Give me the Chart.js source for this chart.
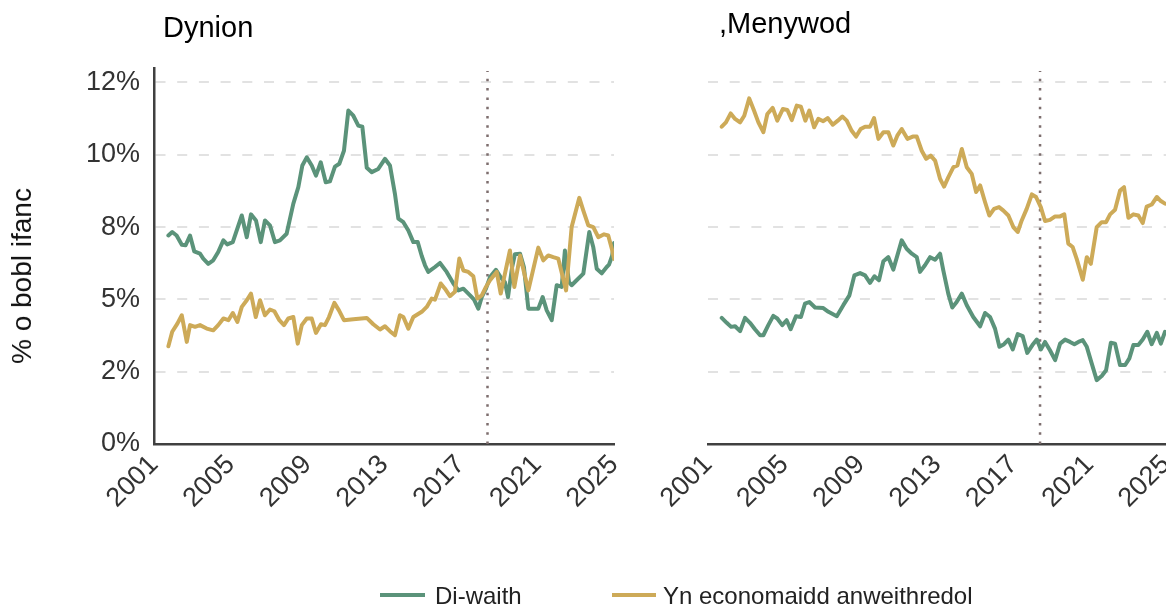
<!DOCTYPE html>
<html><head><meta charset="utf-8">
<script src="https://cdn.jsdelivr.net/npm/chart.js@4.4.1/dist/chart.umd.min.js"></script>
<style>
html,body{margin:0;padding:0;background:#fff;}
#wrap{position:relative;width:1166px;height:606px;overflow:hidden;font-family:"Liberation Sans",Arial,sans-serif;}
canvas{position:absolute;top:0;}
.t{position:absolute;white-space:nowrap;color:#000;line-height:1;}
.lg{position:absolute;white-space:nowrap;color:#222;font-size:24px;line-height:1;}
.sw{position:absolute;height:4px;}
</style></head><body>
<div id="wrap">
<canvas id="c1" width="640" height="606" style="left:0"></canvas>
<canvas id="c2" width="506" height="606" style="left:660px"></canvas>
<div class="t" style="left:163px;top:13px;font-size:29px;">Dynion</div>
<div class="t" style="left:719px;top:9px;font-size:29px;">,Menywod</div>
<div class="t" style="left:22px;top:276px;font-size:28px;color:#111;transform:translate(-50%,-50%) rotate(-90deg);">% o bobl ifanc</div>
<div class="sw" style="left:380px;top:593px;width:45px;background:#5b937a;"></div>
<div class="lg" style="left:435px;top:584px;">Di-waith</div>
<div class="sw" style="left:612px;top:593px;width:44px;background:#cdaa58;"></div>
<div class="lg" style="left:663px;top:584px;">Yn economaidd anweithredol</div>
</div>
<script>
// ---- data ----
const xTickYears = [2001, 2005, 2009, 2013, 2017, 2021, 2025];
const yTickValues = [0, 2.5, 5, 7.5, 10, 12.5];
const yTickLabels = ['0%', '2%', '5%', '8%', '10%', '12%'];
const markerYear = 2018.4;

// Dynion – Di-waith
const menUnempYears = [2001.75,2001.95,2002.18,2002.45,2002.65,2002.88,2003.10,2003.40,2003.57,2003.83,2004.09,2004.35,2004.62,2004.82,2005.11,2005.58,2005.84,2006.06,2006.32,2006.57,2006.79,2007.05,2007.31,2007.57,2007.92,2008.27,2008.53,2008.74,2008.97,2009.23,2009.45,2009.70,2009.96,2010.18,2010.44,2010.67,2010.91,2011.14,2011.40,2011.66,2011.87,2012.10,2012.36,2012.70,2013.05,2013.31,2013.57,2013.75,2014.01,2014.27,2014.53,2014.76,2014.97,2015.14,2015.31,2015.66,2015.92,2016.27,2016.62,2016.88,2017.14,2017.49,2017.70,2017.92,2018.10,2018.32,2018.53,2018.84,2019.10,2019.31,2019.47,2019.68,2019.83,2020.10,2020.30,2020.53,2020.79,2021.05,2021.28,2021.49,2021.75,2022.01,2022.27,2022.44,2022.65,2022.79,2023.05,2023.40,2023.71,2023.92,2024.10,2024.36,2024.62,2024.74,2024.90,2025.00];
const menUnempRate = [7.21,7.33,7.21,6.89,6.87,7.21,6.66,6.58,6.41,6.23,6.35,6.64,7.04,6.9,6.98,7.9,7.15,7.94,7.73,6.98,7.73,7.56,6.98,7.04,7.27,8.31,8.88,9.63,9.91,9.63,9.28,9.74,9.05,9.08,9.59,9.69,10.14,11.53,11.35,11.01,10.97,9.55,9.40,9.51,9.86,9.63,8.65,7.79,7.67,7.38,6.98,6.98,6.5,6.18,5.95,6.12,6.26,5.95,5.55,5.31,5.37,5.14,4.99,4.68,5.08,5.37,5.77,6.02,5.75,5.6,5.08,6.1,6.56,6.58,6.12,4.68,4.68,4.68,5.08,4.62,4.28,5.49,5.43,6.69,5.6,5.49,5.66,5.89,7.33,6.8,6.06,5.9,6.12,6.2,6.5,6.95];

// Dynion – Yn economaidd anweithredol
const menInactYears = [2001.75,2001.95,2002.22,2002.45,2002.71,2002.88,2003.14,2003.40,2003.75,2004.09,2004.35,2004.62,2004.88,2005.11,2005.35,2005.58,2005.84,2006.06,2006.31,2006.53,2006.79,2007.05,2007.28,2007.54,2007.78,2008.01,2008.27,2008.50,2008.71,2008.97,2009.23,2009.45,2009.71,2009.92,2010.13,2010.41,2010.65,2010.91,2011.40,2012.10,2012.44,2012.79,2013.05,2013.31,2013.57,2013.83,2014.01,2014.27,2014.53,2014.97,2015.23,2015.49,2015.66,2015.96,2016.18,2016.44,2016.70,2016.93,2017.14,2017.40,2017.66,2017.87,2018.10,2018.32,2018.53,2018.88,2019.09,2019.31,2019.57,2019.80,2020.10,2020.53,2021.05,2021.31,2021.57,2021.83,2022.09,2022.50,2022.79,2023.19,2023.40,2023.66,2023.92,2024.18,2024.48,2024.70,2024.91,2025.00];
const menInactRate = [3.38,3.88,4.16,4.45,3.53,4.11,4.05,4.11,3.99,3.93,4.11,4.34,4.28,4.53,4.22,4.74,4.97,5.2,4.39,4.97,4.45,4.65,4.59,4.28,4.11,4.34,4.39,3.47,4.11,4.34,4.34,3.84,4.14,4.11,4.39,4.88,4.62,4.28,4.31,4.36,4.14,3.96,4.07,3.9,3.76,4.45,4.39,3.99,4.39,4.57,4.74,5.03,4.99,5.55,5.37,5.11,5.26,6.41,6.0,5.95,5.8,5.03,5.14,5.43,5.66,5.95,5.2,5.89,6.69,5.43,6.52,5.31,6.79,6.35,6.52,6.46,6.41,5.31,7.5,8.51,8.07,7.56,7.5,7.15,7.25,7.21,6.69,6.4];

// Menywod – Di-waith
const womenUnempYears = [2001.72,2001.98,2002.21,2002.42,2002.68,2002.94,2003.20,2003.46,2003.73,2003.90,2004.16,2004.42,2004.63,2004.89,2005.12,2005.33,2005.61,2005.87,2006.08,2006.31,2006.61,2007.04,2007.31,2007.75,2008.09,2008.41,2008.67,2008.97,2009.23,2009.49,2009.72,2009.96,2010.19,2010.45,2010.71,2011.15,2011.41,2011.68,2011.94,2012.11,2012.37,2012.64,2012.90,2013.16,2013.33,2013.59,2013.80,2014.03,2014.30,2014.56,2014.90,2015.26,2015.52,2015.78,2016.04,2016.27,2016.51,2016.74,2016.97,2017.23,2017.49,2017.73,2018.00,2018.23,2018.44,2018.66,2018.92,2019.19,2019.45,2019.71,2019.97,2020.20,2020.41,2020.64,2020.85,2021.11,2021.37,2021.63,2021.86,2022.11,2022.33,2022.59,2022.86,2023.08,2023.29,2023.55,2023.78,2024.02,2024.25,2024.52,2024.73,2024.95];
const womenUnempRate = [4.36,4.19,4.05,4.07,3.9,4.36,4.19,3.97,3.76,3.76,4.11,4.43,4.34,4.11,4.28,3.97,4.42,4.39,4.85,4.91,4.72,4.7,4.57,4.42,4.8,5.14,5.83,5.91,5.83,5.57,5.8,5.66,6.32,6.46,6.03,7.04,6.75,6.58,6.46,5.95,6.18,6.46,6.37,6.58,6.0,5.2,4.72,4.91,5.2,4.8,4.39,4.07,4.53,4.39,3.99,3.36,3.45,3.61,3.27,3.8,3.73,3.15,3.42,3.61,3.27,3.53,3.24,2.9,3.47,3.61,3.53,3.45,3.53,3.59,3.36,2.78,2.21,2.35,2.55,3.5,3.47,2.73,2.73,2.96,3.42,3.42,3.61,3.88,3.45,3.84,3.47,3.88];

// Menywod – Yn economaidd anweithredol
const womenInactYears = [2001.72,2001.94,2002.19,2002.42,2002.68,2002.90,2003.16,2003.41,2003.64,2003.90,2004.11,2004.39,2004.63,2004.92,2005.16,2005.39,2005.65,2005.87,2006.10,2006.31,2006.56,2006.78,2007.04,2007.27,2007.54,2007.80,2008.04,2008.27,2008.53,2008.76,2009.00,2009.23,2009.49,2009.70,2009.93,2010.19,2010.45,2010.71,2010.92,2011.15,2011.45,2011.73,2011.94,2012.20,2012.43,2012.67,2012.90,2013.16,2013.37,2013.59,2013.86,2014.07,2014.30,2014.56,2014.82,2015.05,2015.26,2015.52,2015.74,2015.99,2016.25,2016.48,2016.74,2017.00,2017.23,2017.44,2017.70,2017.97,2018.19,2018.44,2018.66,2018.92,2019.19,2019.45,2019.67,2019.88,2020.11,2020.32,2020.64,2020.85,2021.06,2021.37,2021.63,2021.86,2022.07,2022.33,2022.59,2022.80,2023.03,2023.29,2023.55,2023.78,2023.99,2024.25,2024.52,2024.73,2024.95];
const womenInactRate = [10.97,11.12,11.43,11.24,11.12,11.35,11.95,11.53,11.12,10.78,11.41,11.62,11.18,11.58,11.55,11.2,11.7,11.66,11.18,11.53,10.95,11.24,11.16,11.27,11.04,11.18,11.32,11.18,10.83,10.63,10.89,10.97,10.97,11.27,10.55,10.78,10.78,10.32,10.66,10.89,10.55,10.63,10.63,10.14,9.86,9.97,9.8,9.17,8.9,9.22,9.57,9.63,10.2,9.57,9.34,8.71,8.94,8.36,7.9,8.13,8.19,8.07,7.9,7.5,7.33,7.73,8.13,8.63,8.54,8.19,7.71,7.75,7.87,7.87,7.94,6.93,6.81,6.4,5.68,6.46,6.23,7.5,7.67,7.67,7.94,8.1,8.76,8.88,7.82,7.94,7.9,7.64,8.21,8.28,8.54,8.4,8.31];

// ---- styles ----
const GREEN = '#5b937a', GOLD = '#cdaa58', MARK = '#7d6e6e';
const FONT = "'Liberation Sans', Arial, sans-serif";
const pts = (xs, ys) => xs.map((x, i) => ({x: x, y: ys[i]}));

function makeChart(id, unempX, unempY, inactX, inactY, left) {
  return new Chart(document.getElementById(id), {
    type: 'line',
    data: {
      datasets: [
        {label: 'Di-waith', data: pts(unempX, unempY), borderColor: GREEN, borderWidth: 4, pointRadius: 0, tension: 0, order: 2, borderJoinStyle: 'round', borderCapStyle: 'round'},
        {label: 'Yn economaidd anweithredol', data: pts(inactX, inactY), borderColor: GOLD, borderWidth: 4, pointRadius: 0, tension: 0, order: 1, borderJoinStyle: 'round', borderCapStyle: 'round'},
        {label: 'marker', data: [{x: markerYear, y: 0}, {x: markerYear, y: 12.9}], borderColor: MARK, borderWidth: 2.5, borderDash: [2.5, 6.8], pointRadius: 0, order: 3}
      ]
    },
    options: {
      responsive: false, animation: false, devicePixelRatio: 1,
      layout: {padding: {top: 68, right: left ? 26 : 0, left: 0, bottom: 0}},
      plugins: {legend: {display: false}, tooltip: {enabled: false}},
      scales: {
        x: {
          type: 'linear', min: 2001, max: 2025,
          afterBuildTicks: s => { s.ticks = xTickYears.map(v => ({value: v})); },
          afterFit: s => { s.height = 606 - 444; s.paddingLeft = 0; s.paddingRight = 0; },
          grid: {display: false, drawTicks: false},
          border: {display: true, color: '#404040', width: 2.5},
          ticks: {autoSkip: false, maxRotation: 45, minRotation: 45, padding: 5, color: '#333', font: {family: FONT, size: 27}, callback: v => String(v)}
        },
        y: {
          min: 0, max: 13,
          afterBuildTicks: s => { s.ticks = yTickValues.map(v => ({value: v})); },
          afterFit: s => { s.width = left ? 154 : 48; },
          grid: {color: '#e2e2e2', lineWidth: 2, drawTicks: false},
          border: {display: left, color: '#404040', width: 2.5, dash: [10, 11.7]},
          ticks: {display: left, padding: 14, color: '#333', font: {family: FONT, size: 27},
                  callback: (v, i) => yTickLabels[i]}
        }
      }
    }
  });
}
makeChart('c1', menUnempYears, menUnempRate, menInactYears, menInactRate, true);
makeChart('c2', womenUnempYears, womenUnempRate, womenInactYears, womenInactRate, false);
</script>
</body></html>
